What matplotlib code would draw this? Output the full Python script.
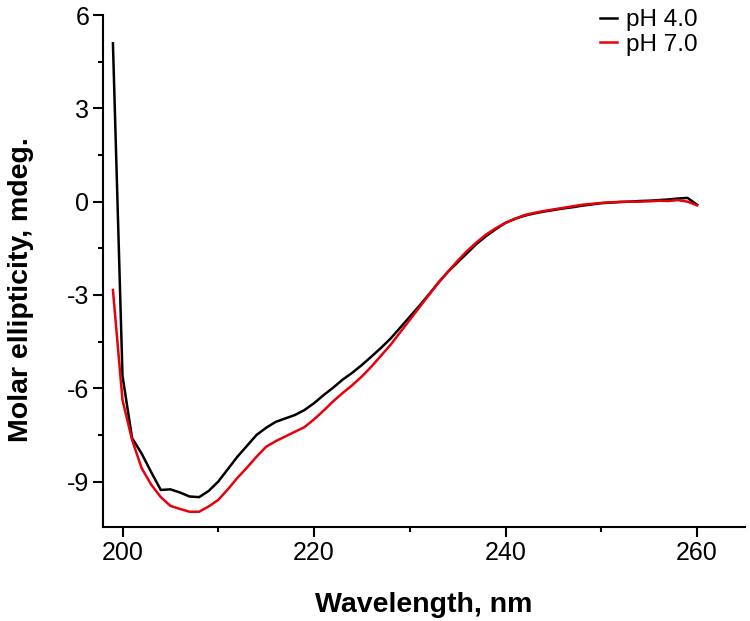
import numpy as np
from matplotlib import pyplot as plt
from matplotlib.ticker import MultipleLocator

plt.rcParams['font.family'] = ['Liberation Sans', 'DejaVu Sans']
plt.rcParams['axes.unicode_minus'] = False

wavelength = np.arange(199, 261)

ph4 = [5.09, -5.6, -7.6, -8.1, -8.7, -9.27, -9.25, -9.35, -9.48, -9.5,
       -9.3, -9.0, -8.6, -8.2, -7.85, -7.5, -7.27, -7.08, -6.97, -6.86,
       -6.7, -6.48, -6.22, -5.98, -5.72, -5.5, -5.25, -4.98, -4.7, -4.4,
       -4.05, -3.7, -3.35, -2.98, -2.6, -2.25, -1.95, -1.65, -1.35, -1.1,
       -0.88, -0.68, -0.55, -0.45, -0.38, -0.32, -0.27, -0.22, -0.18, -0.13,
       -0.09, -0.05, -0.03, -0.01, 0.0, 0.02, 0.03, 0.05, 0.07, 0.1,
       0.12, -0.1]

ph7 = [-2.84, -6.38, -7.66, -8.57, -9.1, -9.5, -9.78, -9.88, -9.97, -9.97,
       -9.8, -9.59, -9.25, -8.88, -8.55, -8.2, -7.88, -7.7, -7.55, -7.4,
       -7.25, -7.0, -6.72, -6.42, -6.15, -5.9, -5.62, -5.3, -4.95, -4.6,
       -4.2, -3.8, -3.4, -3.0, -2.6, -2.25, -1.9, -1.58, -1.3, -1.05,
       -0.85, -0.68, -0.55, -0.43, -0.36, -0.3, -0.25, -0.2, -0.15, -0.1,
       -0.07, -0.04, -0.02, -0.01, 0.0, 0.0, 0.01, 0.03, 0.02, 0.05,
       0.0, -0.12]

fig = plt.figure(figsize=(7.5, 6.21), dpi=100)
ax = fig.add_axes([0.1378, 0.1519, 0.8555, 0.8239])

ax.plot(wavelength, ph4, color='black', lw=1.8, label='pH 4.0')
ax.plot(wavelength, ph7, color='#e8000b', lw=1.8, label='pH 7.0')

ax.set_xlim(198, 265)
ax.set_ylim(-10.45, 6)
ax.xaxis.set_major_locator(MultipleLocator(20))
ax.xaxis.set_minor_locator(MultipleLocator(10))
ax.yaxis.set_major_locator(MultipleLocator(3))
ax.yaxis.set_minor_locator(MultipleLocator(1.5))

for s in ['top', 'right']:
    ax.spines[s].set_visible(False)
for s in ['left', 'bottom']:
    ax.spines[s].set_linewidth(1.5)

ax.tick_params(which='major', direction='out', length=7, width=1.5, labelsize=18, pad=3)
ax.tick_params(which='minor', direction='out', length=3.5, width=1.5)

ax.set_xlabel('Wavelength, nm', fontsize=20.5, fontweight='bold')
ax.set_ylabel('Molar ellipticity, mdeg.', fontsize=20.5, fontweight='bold')
ax.xaxis.set_label_coords(0.5, -0.127)
ax.yaxis.set_label_coords(-0.108, 0.463)

ax.legend(loc='upper right', frameon=False, fontsize=17.5, handlelength=0.7,
          handletextpad=0.4, labelspacing=0.1, borderaxespad=0.0,
          bbox_to_anchor=(0.942, 1.03))

fig.savefig('out.png', dpi=100)
